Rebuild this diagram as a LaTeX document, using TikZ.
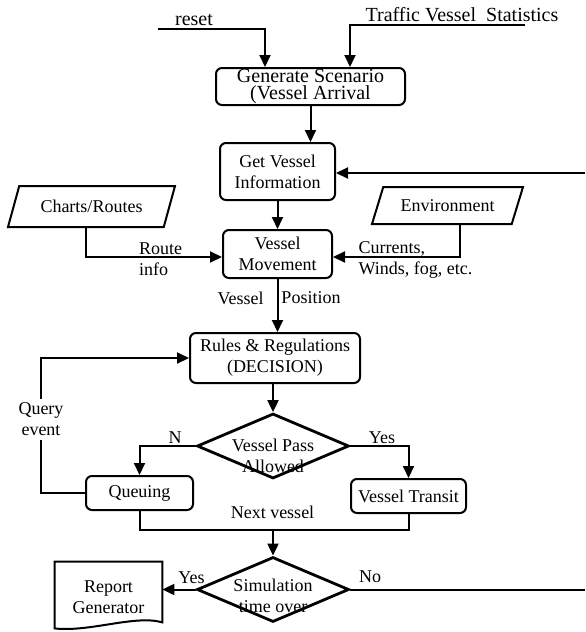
\documentclass[tikz,border=0pt]{standalone}
\usepackage{fontspec}
\setmainfont{Liberation Serif}
\usepackage{tikz}
\usetikzlibrary{positioning}
\usetikzlibrary{shapes.geometric}
\usetikzlibrary{arrows.meta}
\usetikzlibrary{calc}

\begin{document}
\begin{tikzpicture}[x=0.5pt, y=-0.5pt,
    every node/.style={font=\fontsize{9}{10.5}\selectfont},
    box/.style={draw, rounded corners=3pt, line width=1pt, align=center, inner sep=1pt},
    decision/.style={draw, diamond, line width=1.4pt, inner sep=0pt},
    io/.style={draw, trapezium, trapezium stretches body, line width=1pt, inner sep=1pt},
    arrow/.style={-{Triangle[length=6pt, width=5.5pt]}, line width=1pt},
    line/.style={line width=1pt},
    lbl/.style={inner sep=0.5pt, align=center}]

                \useasboundingbox (0,0) rectangle (585,632);

                % Nodes
                \node at (310.5,86.5) (gen) [box, inner sep=0pt, minimum width=94.5pt, minimum height=18.5pt, font=\fontsize{10}{8.5}\selectfont] {Generate Scenario\\(Vessel Arrival};
                \node at (277.5,171.5) (info) [box, minimum width=57.5pt, minimum height=28.5pt] {Get Vessel\\Information};
                \node at (91.5,206.5) (charts) [io, trapezium left angle=56, trapezium right angle=124, minimum width=83.5pt, minimum height=20.5pt] {Charts/Routes};
                \node at (447.5,205.5) (env) [io, trapezium left angle=55, trapezium right angle=125, minimum width=75.5pt, minimum height=18.5pt] {Environment};
                \node at (277.5,254) (move) [box, minimum width=54.5pt, minimum height=24pt] {Vessel\\Movement};
                \node at (275,358) (rules) [box, minimum width=85pt, minimum height=25pt] {Rules \& Regulations\\(DECISION)};
                \node at (273,446) (pass) [decision, minimum width=76pt, minimum height=32.5pt,
                    label={[lbl, yshift=-4.75pt]center:Vessel Pass\\Allowed}] {};
                \node at (139.5,493) (queue) [box, minimum width=53.5pt, minimum height=17pt] {Queuing};
                \node at (408.5,496) (transit) [box, minimum width=57.5pt, minimum height=17pt] {Vessel Transit};
                \node at (273,589.5) (sim) [decision, minimum width=76pt, minimum height=32.5pt,
                    label={[lbl, yshift=-3pt]center:Simulation\\time over}] {};
                \node at (108.5,597) (report) [align=center, inner sep=0pt, minimum width=53.5pt, minimum height=35pt] {Report\\Generator};
                \draw[line] (report.north west) -- (report.north east) -- ([yshift=5pt]report.south east)
                    .. controls +(-27,-8) and +(35,4) .. ([yshift=2pt]report.south west) -- cycle;

                \coordinate (resetin) at (158,29);
                \coordinate (statsin) at (525,25);
                \coordinate (back) at (585,173);
                \coordinate (join) at ($(queue.south)+(0,19)$);

                % Arrows
                \draw[arrow] (resetin) -| ([xshift=-22.75pt]gen.north);
                \draw[arrow] (statsin) -| ([xshift=19.75pt]gen.north);
                \draw[arrow] (gen.south) -- (gen.south |- info.north);
                \draw[arrow] (info.south) -- (info.south |- move.north);
                \draw[arrow] (charts.bottom side) |- ([yshift=-1.5pt]move.west);
                \draw[arrow] ([xshift=9.25pt]env.bottom side) |- ([yshift=-1.5pt]move.east);
                \draw[arrow] (move.south) -- (move.south |- rules.north);
                \draw[arrow] (pass.north |- rules.south) -- (pass.north);
                \draw[arrow] (pass.west) -| (queue.north);
                \draw[arrow] (pass.east) -| (transit.north);
                \draw[arrow] (queue.west) -- ++(-44,0) |- (rules.west);
                \draw[line] (queue.south) -- (join) -| (transit.south);
                \draw[arrow] (join -| sim.north) -- (sim.north);
                \draw[arrow] (sim.west) -- (sim.west -| report.east);
                \draw[line] (sim.east) -- (sim.east -| back);
                \draw[arrow] (back) -- (back -| info.east);

                % Labels
                \node at (194,20) (resetlbl) [lbl, font=\fontsize{10}{12}\selectfont] {reset};
                \node at (462,15) (statslbl) [lbl, font=\fontsize{10}{12}\selectfont] {Traffic Vessel\ \ Statistics};
                \node at (160.5,259.5) (routelbl) [lbl, align=left] {Route\\info};
                \node at (415.5,259.5) (envlbl) [lbl, align=left] {Currents,\\Winds, fog, etc.};
                \node at (240.5,298) (poslbl) [lbl] {Vessel};
                \node at (311,298) (poslbr) [lbl] {Position};
                \node at (41,419.5) (querylbl) [lbl, fill=white, inner sep=2pt] {Query\\event};
                \node at (175,438) (nolbl) [lbl] {N};
                \node at (382,438) (yeslbl) [lbl] {Yes};
                \node at (272.5,512) (nextlbl) [lbl] {Next vessel};
                \node at (191.5,578) (simyes) [lbl] {Yes};
                \node at (370,577) (simno) [lbl] {No};

            \end{tikzpicture}
\end{document}
